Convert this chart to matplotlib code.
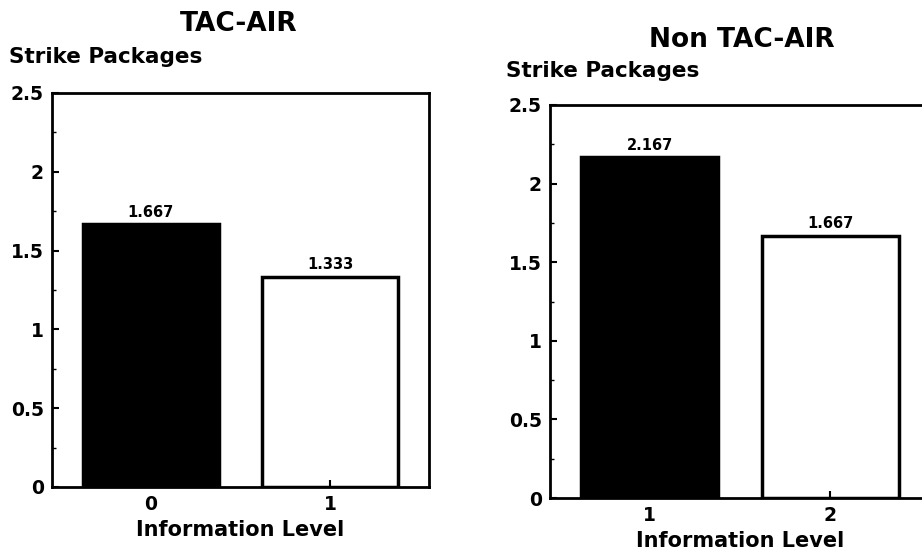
import matplotlib
matplotlib.use("Agg")
import matplotlib.pyplot as plt

# Data
tac_levels = ["0", "1"]
tac_values = [1.667, 1.333]
non_levels = ["1", "2"]
non_values = [2.167, 1.667]
bar_colors = ["black", "white"]
y_ticks = [0, 0.5, 1, 1.5, 2, 2.5]
y_tick_labels = ["0", "0.5", "1", "1.5", "2", "2.5"]
y_minor = [0.25, 0.75, 1.25, 1.75, 2.25]

plt.rcParams["font.family"] = ["DejaVu Sans"]
plt.rcParams["font.weight"] = "bold"

fig = plt.figure(figsize=(9.22, 5.54), dpi=100)

W, H = 922, 554


def px_axes(left, top, right, bottom):
    return fig.add_axes([left / W, 1 - bottom / H, (right - left) / W, (bottom - top) / H])


def draw_panel(ax, levels, values, title, title_xy, ylab_xy):
    x = list(range(len(levels)))
    ax.bar(x, values, width=0.76, color=bar_colors, edgecolor="black", linewidth=2.5)
    for xi, v in zip(x, values):
        ax.text(xi, v + 0.03, f"{v:.3f}", ha="center", va="bottom", fontsize=10.5,
                fontweight="bold")
    ax.set_xlim(-0.55, 1.55)
    ax.set_ylim(0, 2.5)
    ax.set_xticks(x, levels)
    ax.set_yticks(y_ticks, y_tick_labels)
    ax.set_yticks(y_minor, minor=True)
    ax.tick_params(axis="both", which="major", direction="in", length=5, width=1.5,
                   labelsize=13.5, pad=6)
    ax.tick_params(axis="y", which="minor", direction="in", length=3, width=1)
    for s in ax.spines.values():
        s.set_linewidth(2)
    ax.set_xlabel("Information Level", fontsize=15, fontweight="bold", labelpad=4)
    fig.text(title_xy[0] / W, 1 - title_xy[1] / H, title, ha="center", va="center",
             fontsize=19, fontweight="bold")
    fig.text(ylab_xy[0] / W, 1 - ylab_xy[1] / H, "Strike Packages", ha="left", va="center",
             fontsize=15.5, fontweight="bold")


ax1 = px_axes(52, 93, 429, 487)
draw_panel(ax1, tac_levels, tac_values, "TAC-AIR", (239, 24), (9, 57))

ax2 = px_axes(550, 105, 930, 498)
draw_panel(ax2, non_levels, non_values, "Non TAC-AIR", (742, 40), (506, 71))

fig.savefig("out.png", dpi=100)
